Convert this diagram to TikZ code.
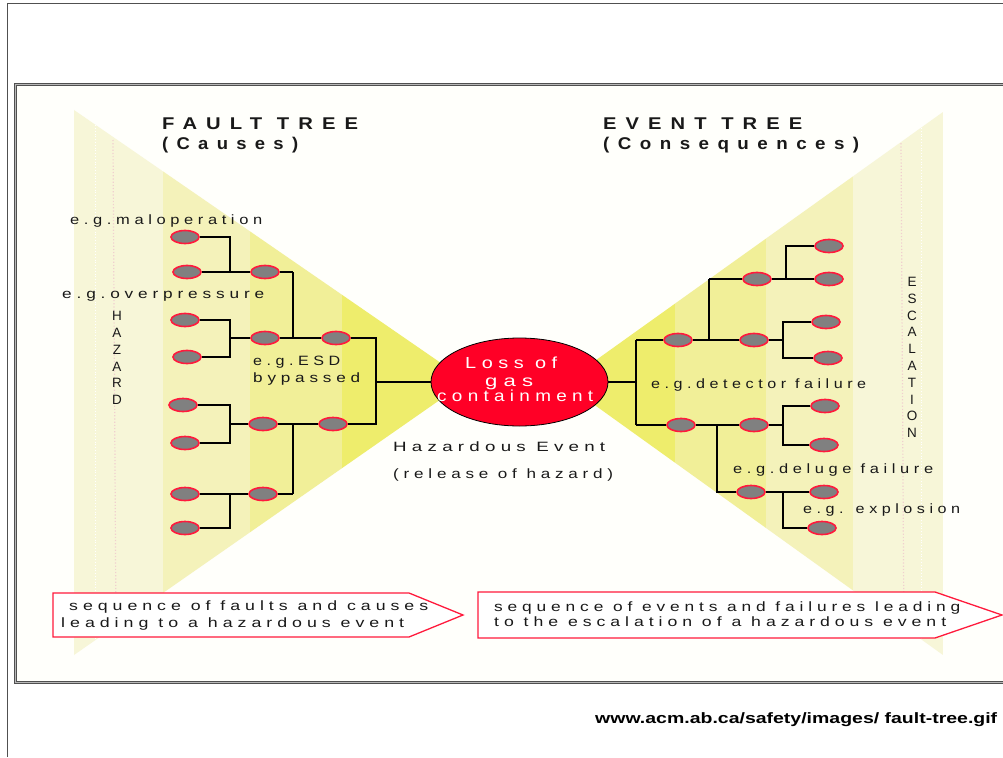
\documentclass[tikz,border=0pt]{standalone}
\usepackage{fontspec}
\usepackage{graphicx}
\setmainfont{Liberation Sans}
\newfontfamily\spc[LetterSpace=28]{Liberation Sans}
\newfontfamily\spcb[LetterSpace=45]{Liberation Sans}
\usetikzlibrary{shapes.geometric}
% set a line of text to an exact width, keeping its natural height
\newcommand\fitw[2]{\resizebox{#1pt}{\height}{#2}}

\definecolor{bandA}{HTML}{F7F6D8}
\definecolor{bandB}{HTML}{F4F2BA}
\definecolor{bandC}{HTML}{F1EF98}
\definecolor{bandD}{HTML}{EEED6C}
\definecolor{lossred}{HTML}{FF0026}
\definecolor{ringred}{HTML}{FF1A3C}
\definecolor{ovalgray}{HTML}{808080}
\definecolor{framedark}{HTML}{505050}
\definecolor{framelight}{HTML}{B8B8B8}
\definecolor{paper}{HTML}{FFFFFB}
\definecolor{dotpink}{HTML}{F0CFCF}

\begin{document}
\begin{tikzpicture}[x=1pt,y=-1pt,
  event/.style={ellipse, draw=ringred, line width=1.6pt, fill=ovalgray,
    minimum width=28pt, minimum height=13pt, inner sep=0pt},
  link/.style={line width=1.7pt, black},
  trunk/.style={line width=2.6pt, black},
  lbl/.style={inner sep=0pt, anchor=base west, text=black!90,
    font=\spc\fontsize{13.5}{15}\selectfont},
  ttl/.style={inner sep=0pt, anchor=base west, text=black!90,
    font=\spcb\bfseries\fontsize{17}{19}\selectfont},
  inlbl/.style={inner sep=0pt, anchor=base west, text=white,
    font=\spc\fontsize{16}{18}\selectfont},
  upright/.style={inner sep=0pt, align=center, text=black!90,
    font=\fontsize{13.5}{16.8}\selectfont},
  banner/.style={draw=ringred, line width=1.3pt, fill=white}
]
\useasboundingbox (0,0) rectangle (1003,757);
\fill[white] (0,0) rectangle (1003,757);

% page rules
\draw[framedark, line width=1pt] (7.7,757) -- (7.7,4) -- (1003,4);

% panel
\fill[paper] (15,84) rectangle (1015,682);

% causes wedge
\begin{scope}
  \clip (74,110) -- (467,381) -- (74,655) -- cycle;
  \fill[bandA] (74,100) rectangle (163,660);
  \fill[bandB] (163,100) rectangle (250,660);
  \fill[bandC] (250,100) rectangle (342,660);
  \fill[bandD] (342,100) rectangle (470,660);
  \draw[white, line width=0.8pt, dotted] (95,100) -- (95,660);
  \draw[dotpink, line width=1.2pt, dotted] (113,140) -- (116,630);
\end{scope}

% consequences wedge
\begin{scope}
  \clip (943,112) -- (564,383) -- (943,655) -- cycle;
  \fill[bandD] (555,100) rectangle (675,660);
  \fill[bandC] (675,100) rectangle (766,660);
  \fill[bandB] (766,100) rectangle (853,660);
  \fill[bandA] (853,100) rectangle (943,660);
  \draw[white, line width=0.8pt, dotted] (921,100) -- (921,660);
  \draw[dotpink, line width=1.2pt, dotted] (901,140) -- (904,645);
\end{scope}

% panel border
\draw[framedark, line width=3.4pt] (15.5,84.5) rectangle (1015,682.5);
\draw[framelight, line width=1pt] (15.5,84.5) rectangle (1015,682.5);

% titles
\node[ttl] (ft1) at (162,129) {\fitw{196}{FAULT TREE}};
\node[ttl] (ft2) at (162,149) {\fitw{136}{(Causes)}};
\node[ttl] (et1) at (603,129) {\fitw{199}{EVENT TREE}};
\node[ttl] (et2) at (603,149) {\fitw{256}{(Consequences)}};

% top event
\node[ellipse, fill=lossred, draw=black, line width=0.8pt,
  minimum width=177pt, minimum height=88pt, inner sep=0pt] (loss) at (519.5,382) {};
\node[inlbl] (lo1) at (465,368) {\fitw{92}{Loss of}};
\node[inlbl] (lo2) at (485,386) {\fitw{48}{gas}};
\node[inlbl] (lo3) at (437,401) {\fitw{156}{containment}};

% fault tree events
\node[event] (a1) at (185,237) {};
\node[event] (a2) at (187,272) {};
\node[event] (a3) at (185,320) {};
\node[event] (a4) at (187,357) {};
\node[event] (a5) at (183,405) {};
\node[event] (a6) at (185,443) {};
\node[event] (a7) at (185,494) {};
\node[event] (a8) at (185,528) {};
\node[event] (b1) at (265,272) {};
\node[event] (b2) at (265,338) {};
\node[event] (b3) at (263,424) {};
\node[event] (b4) at (263,494) {};
\node[event] (c1) at (336,338) {};
\node[event] (c2) at (333,424) {};

\coordinate (xa) at (230,0);
\coordinate (xb) at (293,0);
\coordinate (xc) at (376,0);

\draw[link] (a1.east) -| (a2 -| xa);
\draw[link] (a2.east) -- (b1.west);
\draw[link] (a3.east) -| (a4 -| xa) -- (a4.east);
\draw[link] (b2.west) -- (b2 -| xa);
\draw[link] (b1.east) -- (b1 -| xb);
\draw[trunk] (b1 -| xb) -- (b2 -| xb);
\draw[link] (b2.east) -- (c1.west);
\draw[link] (c1.east) -| (c2 -| xc) -- (c2.east);
\draw[link] (loss.west) -- (loss.west -| xc);
\draw[link] (a5.east) -| (a6 -| xa) -- (a6.east);
\draw[link] (b3.west) -- (b3 -| xa);
\draw[link] (b3.east) -- (c2.west);
\draw[trunk] (b3 -| xb) -- (b4 -| xb);
\draw[link] (b4.east) -- (b4 -| xb);
\draw[link] (a7.east) -- (b4.west);
\draw[link] (a7 -| xa) -- (a8 -| xa) -- (a8.east);

% event tree outcomes
\node[event] (d1) at (678,340) {};
\node[event] (d2) at (681,425) {};
\node[event] (e1) at (754,340) {};
\node[event] (e2) at (757,279) {};
\node[event] (e3) at (754,425) {};
\node[event] (e4) at (751,492) {};
\node[event] (f1) at (829,246) {};
\node[event] (f2) at (829,279) {};
\node[event] (f3) at (826,322) {};
\node[event] (f4) at (828,358) {};
\node[event] (f5) at (825,406) {};
\node[event] (f6) at (824,445) {};
\node[event] (f7) at (824,492) {};
\node[event] (f8) at (822,528) {};

\coordinate (xr0) at (636,0);
\coordinate (xr1) at (709,0);
\coordinate (xr1b) at (717,0);
\coordinate (xr2) at (786,0);
\coordinate (xr2b) at (783,0);

\draw[link] (loss.east) -- (loss.east -| xr0);
\draw[trunk] (d1 -| xr0) -- (d2 -| xr0);
\draw[link] (d1 -| xr0) -- (d1.west);
\draw[link] (d2 -| xr0) -- (d2.west);
\draw[link] (d1.east) -- (e1.west);
\draw[trunk] (d1 -| xr1) -- (e2 -| xr1);
\draw[link] (e2 -| xr1) -- (e2.west);
\draw[link] (e2.east) -- (f2.west);
\draw[link] (f1.west) -| (f2 -| xr2);
\draw[link] (e1.east) -- (e1 -| xr2b);
\draw[link] (f3.west) -| (f4 -| xr2b) -- (f4.west);
\draw[link] (d2.east) -- (e3.west);
\draw[link] (e3.east) -- (e3 -| xr2b);
\draw[link] (f5.west) -| (f6 -| xr2b) -- (f6.west);
\draw[link] (d2 -| xr1b) -- (e4 -| xr1b) -- (e4.west);
\draw[link] (e4.east) -- (f7.west);
\draw[link] (f7 -| xr2b) -- (f8 -| xr2b) -- (f8.west);

% example labels
\node[lbl] (l1) at (70,224) {\fitw{192}{e.g.maloperation}};
\node[lbl] (l2) at (62,298) {\fitw{202}{e.g.overpressure}};
\node[lbl] (l3) at (253,365) {\fitw{87}{e.g.ESD}};
\node[lbl] (l4) at (253,382) {\fitw{107}{bypassed}};
\node[lbl] (r1) at (651,388) {\fitw{215}{e.g.detector failure}};
\node[lbl] (r2) at (733,473) {\fitw{200}{e.g.deluge failure}};
\node[lbl] (r3) at (803,513) {\fitw{157}{e.g. explosion}};

\node[upright] (hz) at (117,358) {H\\A\\Z\\A\\R\\D};
\node[upright] (esc) at (912,357.5) {E\\S\\C\\A\\L\\A\\T\\I\\O\\N};

\node[lbl] (he1) at (393,451) {\fitw{212}{Hazardous Event}};
\node[lbl] (he2) at (393,478) {\fitw{220}{(release of hazard)}};

% sequence banners
\draw[banner] (53,593) -- (409,593) -- (463,615) -- (409,637) -- (53,637) -- cycle;
\draw[banner] (478,592) -- (935,592) -- (1002,615) -- (935,638) -- (478,638) -- cycle;
\node[lbl] (sq1) at (69,610) {\fitw{359}{sequence of faults and causes}};
\node[lbl] (sq2) at (61,627) {\fitw{343}{leading to a hazardous event}};
\node[lbl] (sq3) at (494,611) {\fitw{466}{sequence of events and failures leading}};
\node[lbl] (sq4) at (494,626) {\fitw{452}{to the escalation of a hazardous event}};

% source line
\node[inner sep=0pt, anchor=base west, font=\bfseries\fontsize{15}{17}\selectfont]
  (src) at (595,723) {\fitw{402}{www.acm.ab.ca/safety/images/ fault-tree.gif}};
\end{tikzpicture}
\end{document}
